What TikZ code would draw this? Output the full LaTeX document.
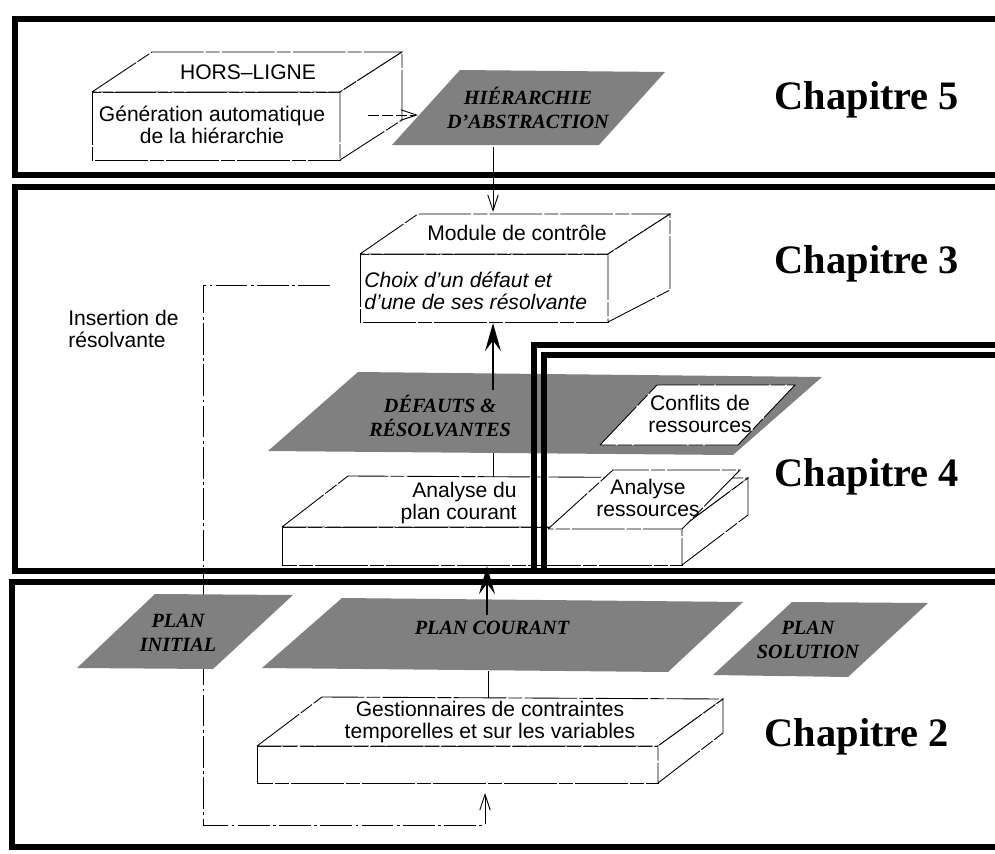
\documentclass[tikz,border=0pt]{standalone}
\usepackage{fontspec}
\setmainfont{Liberation Serif}
\setsansfont{Liberation Sans}
\usetikzlibrary{arrows.meta}
\definecolor{trame}{gray}{0.5}
\tikzstyle{cadre}=[line width=2.9pt]
\tikzstyle{fin}=[line width=0.5pt, dash pattern=on 30pt off 1.2pt on 8pt off 1.2pt]
\tikzstyle{boite}=[fin, fill=white]
\tikzstyle{plaque}=[fill=trame]
\tikzstyle{retour}=[line width=0.5pt, dash pattern=on 18pt off 2pt on 1.5pt off 2pt]
\tikzstyle{texte}=[font=\sffamily\fontsize{12}{12.5}\selectfont, align=center, inner sep=0pt]
\tikzstyle{italique}=[texte, font=\sffamily\itshape\fontsize{12}{12.5}\selectfont]
\tikzstyle{titre}=[font=\bfseries\itshape\fontsize{11.5}{13.5}\selectfont, align=center, inner sep=0pt]
\tikzstyle{chapitre}=[font=\bfseries\fontsize{23}{26}\selectfont, inner sep=0pt]
\tikzstyle{fleche}=[line width=0.5pt, -{Straight Barb[length=9pt,width=6pt]}]
\tikzstyle{grosse}=[line width=1.6pt, -{Stealth[length=16pt,width=9pt,inset=6pt]}]

\begin{document}
\begin{tikzpicture}[x=0.02cm, y=-0.02cm]
    \useasboundingbox (0,0) rectangle (995,853);
    % boucle d'insertion de resolvante
    \coordinate (module-w) at (360,285);
    \coordinate (coin) at (203,825);
    \coordinate (gest-s) at (485,783);
    \draw[retour, -{Straight Barb[length=9pt,width=6pt]}, shorten <=0.6cm, shorten >=0.2cm]
        (module-w) -- (module-w -| coin) -- (coin) -- (coin -| gest-s) -- (gest-s);
    \node[texte, anchor=west, align=left] (insertion) at (68,329) {Insertion de\\résolvante};

    % chapitre 5
    \draw[boite] (92,92) rectangle (340,160);
    \draw[boite] (92,92) -- (152,52) -- (402,52) -- (340,92) -- cycle;
    \draw[boite] (340,160) -- (402,120) -- (402,52) -- (340,92) -- cycle;
    \node[texte] (horsligne) at (248,72) {HORS–LIGNE};
    \node[texte] (generation) at (212,125) {Génération automatique\\de la hiérarchie};
    \fill[plaque] (392,145) -- (460,70) -- (665,72) -- (599,145) -- cycle;
    \node[titre] (hierarchie) at (528,108) {HIÉRARCHIE\\D'ABSTRACTION};
    \coordinate (hl-e) at (368,115);
    \coordinate (hier-w) at (418,115);
    \draw[fleche, dash pattern=on 6pt off 2pt] (hl-e) -- (hier-w);
    \coordinate (hier-s) at (493,147);
    \coordinate (module-n) at (493,212);
    \draw[fleche] (hier-s) -- (module-n);

    % chapitre 3
    \draw[boite] (360,254) rectangle (608,322);
    \draw[boite] (360,254) -- (418,214) -- (670,214) -- (608,254) -- cycle;
    \draw[boite] (608,322) -- (670,290) -- (670,214) -- (608,254) -- cycle;
    \node[texte] (module) at (517,233) {Module de contrôle};
    \node[italique, anchor=west, align=left] (choix) at (364,291) {Choix d'un défaut et\\ d'une de ses résolvante};
    \fill[plaque] (268,451) -- (358,372) -- (822,377) -- (733,455) -- cycle;
    \node[titre] (defauts) at (440,416) {DÉFAUTS \&\\RÉSOLVANTES};
    \draw[fin, fill=white] (600,445) -- (657,385) -- (795,385) -- (738,445) -- cycle;
    \node[texte] (conflits) at (700,414) {Conflits de\\ressources};
    \draw[boite] (282,527) rectangle (682,565);
    \draw[boite] (282,527) -- (348,476) -- (748,478) -- (682,527) -- cycle;
    \draw[boite] (682,565) -- (748,515) -- (748,478) -- (682,527) -- cycle;
    \draw[boite] (548,529) -- (613,470) -- (740,470) -- (682,529) -- cycle;
    \node[texte, anchor=east, align=right] (analyse) at (517,503) {Analyse du\\plan courant};
    \node[texte] (ressources) at (648,498) {Analyse\\ressources};
    \coordinate (def-n) at (493,390);
    \coordinate (module-s) at (493,323);
    \draw[grosse] (def-n) -- (module-s);
    \coordinate (def-s) at (493,453);
    \coordinate (analyse-n) at (493,477);
    \draw[fin] (def-s) -- (analyse-n);

    % chapitre 2
    \fill[plaque] (77,668) -- (155,594) -- (293,595) -- (213,669) -- cycle;
    \node[titre] (initial) at (178,633) {PLAN\\INITIAL};
    \fill[plaque] (262,668) -- (342,598) -- (743,602) -- (668,672) -- cycle;
    \node[titre] (courant) at (492,628) {PLAN COURANT};
    \fill[plaque] (713,675) -- (792,602) -- (928,603) -- (848,677) -- cycle;
    \node[titre] (solution) at (808,640) {PLAN\\SOLUTION};
    \draw[boite] (257,746) rectangle (658,783);
    \draw[boite] (257,746) -- (322,697) -- (723,699) -- (658,746) -- cycle;
    \draw[boite] (658,783) -- (723,733) -- (723,699) -- (658,746) -- cycle;
    \node[texte] (gestion) at (490,722) {Gestionnaires de contraintes\\temporelles et sur les variables};
    \coordinate (courant-s) at (488,671);
    \coordinate (gest-n) at (488,698);
    \draw[fin] (courant-s) -- (gest-n);

    % cadres des chapitres
    \draw[cadre] (1010,19) -- (15,19) -- (15,175) -- (1010,175);
    \draw[cadre] (1010,187) -- (15,187) -- (15,571) -- (1010,571);
    \draw[cadre] (1010,345) -- (534,345) -- (534,571);
    \draw[cadre] (1010,355) -- (544,355) -- (544,571);
    \draw[cadre] (1010,582) -- (12,582) -- (12,847) -- (1010,847);
    \coordinate (courant-n) at (487,615);
    \coordinate (analyse-s) at (487,566);
    \draw[grosse] (courant-n) -- (analyse-s);
    \node[chapitre] (chap5) at (867,100) {Chapitre 5};
    \node[chapitre] (chap3) at (867,264) {Chapitre 3};
    \node[chapitre] (chap4) at (867,477) {Chapitre 4};
    \node[chapitre] (chap2) at (857,737) {Chapitre 2};
\end{tikzpicture}
\end{document}
